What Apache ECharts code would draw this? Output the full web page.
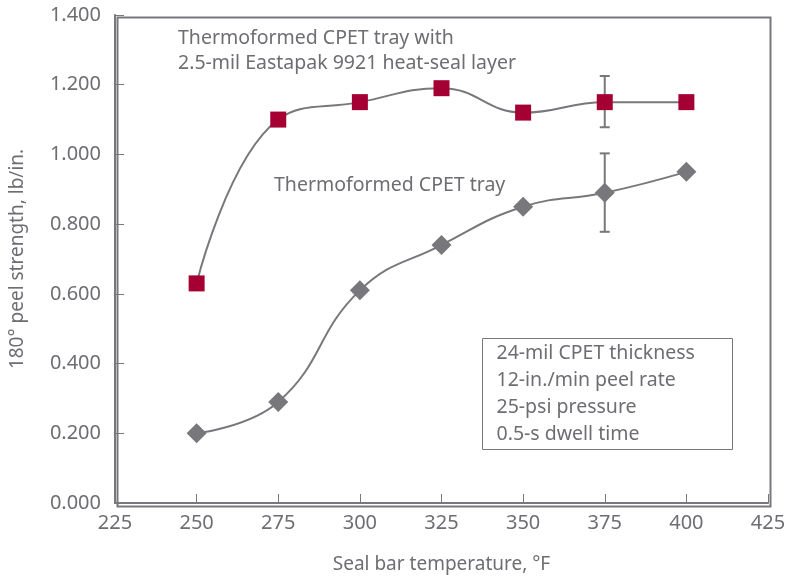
<!DOCTYPE html>
<html>
<head>
<meta charset="utf-8">
<script src="https://cdn.jsdelivr.net/npm/echarts@6/dist/echarts.min.js"></script>
<style>
  html, body { margin: 0; padding: 0; background: #fff; }
  #chart { width: 791px; height: 579px; }
</style>
</head>
<body>
<div id="chart"></div>
<script>
var temps = [250, 275, 300, 325, 350, 375, 400];
var withLayer = [0.63, 1.10, 1.15, 1.19, 1.12, 1.15, 1.15];
var trayOnly = [0.20, 0.29, 0.61, 0.74, 0.85, 0.89, 0.95];
// error bars: [x, low, high]
var withLayerErr = [[375, 1.078, 1.225]];
var trayOnlyErr = [[375, 0.778, 1.003]];
var noteLines = ['24-mil CPET thickness', '12-in./min peel rate', '25-psi pressure', '0.5-s dwell time'];

var gray = '#78787c';
var textGray = '#6d6e72';
var red = '#a50034';
var font = 'Noto Sans';

function pairs(xs, ys) {
    return xs.map(function (x, i) { return [x, ys[i]]; });
}

function errorBar(params, api) {
    var x = api.value(0);
    var lo = api.coord([x, api.value(1)]);
    var hi = api.coord([x, api.value(2)]);
    var w = 5;
    var style = { stroke: gray, lineWidth: 2 };
    return {
        type: 'group',
        children: [
            { type: 'line', shape: { x1: lo[0], y1: lo[1], x2: hi[0], y2: hi[1] }, style: style },
            { type: 'line', shape: { x1: lo[0] - w, y1: lo[1], x2: lo[0] + w, y2: lo[1] }, style: style },
            { type: 'line', shape: { x1: hi[0] - w, y1: hi[1], x2: hi[0] + w, y2: hi[1] }, style: style }
        ]
    };
}

var chart = echarts.init(document.getElementById('chart'));
var option = {
    animation: false,
    textStyle: { fontFamily: font },
    grid: { left: 115, top: 15, right: 23, bottom: 75, show: false },
    xAxis: {
        type: 'value',
        min: 225, max: 425, interval: 25,
        name: 'Seal bar temperature, °F',
        nameLocation: 'middle',
        nameGap: 52,
        nameTextStyle: { color: textGray, fontSize: 19, fontFamily: font },
        axisLine: { show: true, lineStyle: { color: gray, width: 2 } },
        axisTick: { show: true, inside: true, length: 9, lineStyle: { color: gray, width: 1 } },
        axisLabel: { color: textGray, fontSize: 20, margin: 10, fontFamily: font },
        splitLine: { show: false }
    },
    yAxis: {
        type: 'value',
        min: 0, max: 1.4, interval: 0.2,
        name: '180° peel strength, lb/in.',
        nameLocation: 'middle',
        nameGap: 88,
        nameRotate: 90,
        nameTextStyle: { color: textGray, fontSize: 19, fontFamily: font },
        axisLine: { show: true, lineStyle: { color: gray, width: 2 } },
        axisTick: { show: true, inside: true, length: 9, lineStyle: { color: gray, width: 1 } },
        axisLabel: {
            color: textGray, fontSize: 20, margin: 14, fontFamily: font,
            formatter: function (v) { return v.toFixed(3); }
        },
        splitLine: { show: false }
    },
    graphic: [
        {
            type: 'rect', left: 115, top: 15,
            shape: { width: 653, height: 489 },
            style: { fill: 'none', stroke: gray, lineWidth: 2 },
            silent: true
        },
        {
            type: 'text', left: 178, top: 26,
            style: {
                text: 'Thermoformed CPET tray with\n2.5-mil Eastapak 9921 heat-seal layer',
                fill: textGray, font: '19.5px "' + font + '"', lineHeight: 25
            }
        },
        {
            type: 'text', left: 274, top: 175,
            style: { text: 'Thermoformed CPET tray', fill: textGray, font: '19.5px "' + font + '"' }
        },
        {
            type: 'group', left: 482, top: 338,
            children: [
                {
                    type: 'rect', shape: { x: 0, y: 0, width: 250, height: 111 },
                    style: { fill: '#fff', stroke: gray, lineWidth: 1 }
                },
                {
                    type: 'text', x: 14, y: 1,
                    style: { text: noteLines.join('\n'), fill: textGray, font: '19.5px "' + font + '"', lineHeight: 27 }
                }
            ]
        }
    ],
    series: [
        {
            type: 'custom', renderItem: errorBar, data: withLayerErr,
            encode: { x: 0, y: [1, 2] }, z: 1
        },
        {
            type: 'custom', renderItem: errorBar, data: trayOnlyErr,
            encode: { x: 0, y: [1, 2] }, z: 1
        },
        {
            type: 'line', data: pairs(temps, withLayer), smooth: 0.45,
            symbol: 'rect', symbolSize: 16,
            lineStyle: { color: gray, width: 2 },
            itemStyle: { color: red },
            z: 3
        },
        {
            type: 'line', data: pairs(temps, trayOnly), smooth: 0.45,
            symbol: 'diamond', symbolSize: [20, 20],
            lineStyle: { color: gray, width: 2 },
            itemStyle: { color: gray },
            z: 3
        }
    ]
};
chart.setOption(option);
</script>
</body>
</html>
